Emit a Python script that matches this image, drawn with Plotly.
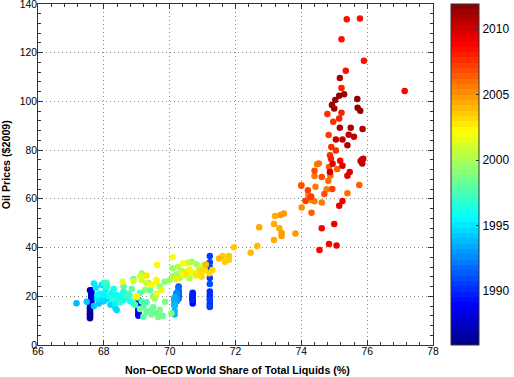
import plotly.graph_objects as go

# ---------------- data ----------------
share = [
    # 1986
    67.58, 67.58, 67.58, 67.58, 67.58, 67.58, 67.58, 67.58, 67.58, 67.58, 67.58, 67.58,
    # 1987
    67.62, 67.62, 67.62, 67.62, 67.62, 67.62, 67.62, 67.62, 67.62, 67.62, 67.62, 67.62,
    # 1988
    69.05, 69.05, 69.05, 69.05, 69.05, 69.05, 69.05, 69.05, 69.05, 69.05, 69.05, 69.05,
    # 1989
    70.70, 70.70, 70.70, 70.70, 70.70, 70.70, 70.70, 70.70, 70.70, 70.70, 70.70, 70.70,
    # 1990
    71.22, 71.22, 71.22, 71.22, 71.22, 71.22, 71.22, 71.22, 71.22, 71.22, 71.22, 71.22,
    # 1991
    70.27, 70.27, 70.27, 70.27, 70.27, 70.27, 70.27, 70.27, 70.27, 70.27, 70.27, 70.27,
    # 1992
    70.21, 70.21, 70.21, 70.21, 70.21, 70.21, 70.21, 70.21, 70.21, 70.21, 70.21, 70.21,
    # 1993
    70.15, 70.15, 70.15, 70.15, 70.15, 70.15, 70.15, 70.15, 70.15, 70.15, 70.15, 70.15,
    # 1994
    67.17, 67.48, 67.70, 67.85, 67.95, 68.10, 68.30, 68.39, 68.35, 68.20, 68.00, 67.80,
    # 1995
    67.70, 67.76, 67.93, 67.88, 67.98, 68.05, 68.25, 68.34, 68.45, 68.15, 67.80, 68.60,
    # 1996
    68.39, 68.55, 68.70, 68.80, 68.60, 68.30, 68.10, 68.00, 68.25, 68.50, 68.90, 68.70,
    # 1997
    68.08, 68.95, 68.78, 68.90, 69.00, 69.15, 69.30, 69.10, 68.60, 69.40, 69.20, 68.85,
    # 1998
    69.20, 69.40, 69.60, 69.79, 69.50, 69.30, 69.70, 69.86, 69.45, 69.65, 69.10, 70.05,
    # 1999
    69.50, 69.25, 69.35, 69.15, 69.85, 70.00, 70.09, 70.22, 70.30, 69.70, 69.55, 70.10,
    # 2000
    70.67, 70.82, 71.04, 70.60, 70.50, 70.35, 70.25, 70.75, 70.90, 70.45, 71.00, 70.55,
    # 2001
    69.60, 68.90, 69.30, 69.45, 69.15, 69.00, 68.57, 69.60, 69.10, 69.75, 70.62, 70.40,
    # 2002
    70.09, 70.41, 69.62, 69.60, 68.98, 69.45, 70.60, 70.50, 70.80, 71.00, 70.20, 69.30,
    # 2003
    71.07, 70.95, 70.97, 71.30, 71.20, 71.61, 71.68, 71.80, 71.80, 71.95, 71.10, 71.50,
    # 2004
    72.46, 72.66, 72.72, 73.17, 73.17, 73.20, 73.33, 73.40, 73.40, 73.37, 73.47, 73.82,
    # 2005
    74.01, 74.00, 74.13, 74.21, 74.31, 74.40, 74.43, 74.62, 74.77, 74.40, 74.48, 74.53,
    # 2006
    74.82, 74.88, 75.40, 75.76, 74.84, 74.87, 75.09, 74.31, 74.27, 74.40, 74.62, 74.70,
    # 2007
    74.00, 74.13, 74.20, 74.30, 74.94, 74.83, 74.97, 75.05, 74.79, 74.91, 74.87, 75.15,
    # 2008
    75.22, 74.90, 75.22, 75.35, 75.22, 75.38, 75.78, 75.90, 77.14, 75.18, 74.62, 74.55,
    # 2009
    74.84, 75.07, 75.00, 75.15, 75.25, 75.40, 75.47, 74.95, 75.25, 74.87,
    # 2010
    75.84, 75.80, 75.88, 75.85, 75.05, 75.25, 75.44, 75.60, 75.40, 75.17, 75.50, 75.86,
    # 2011
    75.17, 75.30, 75.03, 74.93, 75.00, 75.70, 75.71, 75.79, 75.15,
]

price = [
    # 1986
    22.5, 17.0, 13.5, 12.0, 11.5, 12.5, 11.0, 13.0, 14.5, 15.0, 15.5, 16.5,
    # 1987
    18.0, 19.0, 19.5, 20.0, 20.5, 21.0, 22.5, 21.5, 20.5, 21.0, 19.5, 17.5,
    # 1988
    18.5, 17.5, 17.0, 17.5, 16.5, 16.0, 15.0, 14.5, 13.5, 12.5, 12.0, 14.0,
    # 1989
    17.0, 18.0, 19.5, 21.0, 20.0, 19.0, 19.5, 18.5, 19.0, 20.0, 20.5, 21.5,
    # 1990
    22.0, 20.5, 19.0, 17.0, 16.0, 15.6, 18.5, 27.5, 36.5, 34.0, 32.0, 25.0,
    # 1991
    24.0, 22.0, 20.0, 20.5, 20.5, 20.0, 21.0, 21.5, 22.0, 23.5, 22.0, 19.0,
    # 1992
    18.0, 18.5, 18.5, 19.5, 20.5, 21.5, 21.0, 20.5, 21.0, 20.5, 19.5, 18.5,
    # 1993
    18.5, 19.0, 19.0, 19.5, 19.0, 18.0, 17.0, 16.5, 16.5, 16.0, 14.0, 12.5,
    # 1994
    17.1, 17.8, 16.0, 17.0, 18.5, 19.0, 17.5, 14.4, 15.2, 16.5, 18.0, 19.0,
    # 1995
    25.3, 23.5, 24.6, 21.0, 20.5, 22.5, 21.5, 17.1, 19.0, 20.0, 20.5, 18.5,
    # 1996
    20.5, 20.5, 19.5, 18.0, 22.0, 23.0, 24.0, 25.5, 19.0, 17.5, 17.0, 21.0,
    # 1997
    25.6, 16.4, 20.5, 27.0, 19.5, 18.0, 17.5, 21.5, 24.0, 22.5, 15.5, 23.0,
    # 1998
    11.6, 14.0, 13.0, 12.0, 15.5, 13.5, 14.5, 17.8, 12.5, 11.5, 14.8, 13.0,
    # 1999
    20.0, 22.6, 25.6, 29.4, 26.0, 26.7, 31.5, 29.0, 27.5, 24.0, 19.0, 28.3,
    # 2000
    34.2, 33.2, 32.8, 27.4, 30.0, 30.5, 32.0, 29.5, 31.0, 28.5, 31.8, 33.8,
    # 2001
    26.0, 26.3, 25.3, 24.6, 26.7, 20.0, 26.0, 21.0, 28.3, 22.5, 30.0, 29.0,
    # 2002
    36.0, 33.5, 32.8, 26.7, 20.0, 24.6, 31.0, 29.5, 28.5, 30.5, 27.0, 28.5,
    # 2003
    30.8, 30.5, 28.0, 30.8, 29.5, 36.5, 34.2, 35.0, 36.5, 40.1, 33.0, 35.5,
    # 2004
    37.9, 40.6, 48.3, 43.1, 49.7, 53.0, 47.9, 46.0, 44.7, 53.4, 54.0, 45.8,
    # 2005
    56.5, 65.7, 59.1, 61.6, 59.4, 59.0, 65.0, 58.5, 63.9, 69.4, 74.2, 74.5,
    # 2006
    67.4, 69.6, 62.3, 65.7, 73.1, 71.0, 72.3, 54.3, 60.8, 71.5, 69.0, 62.0,
    # 2007
    65.4, 59.2, 63.5, 61.0, 64.0, 86.2, 91.7, 79.9, 94.8, 81.3, 77.9, 93.0,
    # 2008
    95.4, 76.5, 105.5, 112.6, 125.5, 133.7, 134.0, 116.7, 104.3, 75.6, 47.9, 39.0,
    # 2009
    41.5, 40.9, 49.7, 57.2, 59.1, 69.5, 71.0, 74.4, 73.6, 71.0,
    # 2010
    76.1, 75.5, 76.5, 74.5, 84.4, 84.4, 86.3, 85.5, 82.0, 89.2, 89.2, 88.7,
    # 2011
    109.6, 102.9, 100.6, 98.5, 97.1, 101.0, 97.4, 96.2, 102.3,
]

year = [
    1986.0, 1986.1, 1986.2, 1986.3, 1986.3, 1986.4, 1986.5, 1986.6, 1986.7, 1986.7, 1986.8, 1986.9,
    1987.0, 1987.1, 1987.2, 1987.3, 1987.3, 1987.4, 1987.5, 1987.6, 1987.7, 1987.7, 1987.8, 1987.9,
    1988.0, 1988.1, 1988.2, 1988.3, 1988.3, 1988.4, 1988.5, 1988.6, 1988.7, 1988.7, 1988.8, 1988.9,
    1989.0, 1989.1, 1989.2, 1989.3, 1989.3, 1989.4, 1989.5, 1989.6, 1989.7, 1989.7, 1989.8, 1989.9,
    1990.0, 1990.1, 1990.2, 1990.3, 1990.3, 1990.4, 1990.5, 1990.6, 1990.7, 1990.7, 1990.8, 1990.9,
    1991.0, 1991.1, 1991.2, 1991.3, 1991.3, 1991.4, 1991.5, 1991.6, 1991.7, 1991.7, 1991.8, 1991.9,
    1992.0, 1992.1, 1992.2, 1992.3, 1992.3, 1992.4, 1992.5, 1992.6, 1992.7, 1992.7, 1992.8, 1992.9,
    1993.0, 1993.1, 1993.2, 1993.3, 1993.3, 1993.4, 1993.5, 1993.6, 1993.7, 1993.7, 1993.8, 1993.9,
    1994.0, 1994.1, 1994.2, 1994.3, 1994.3, 1994.4, 1994.5, 1994.6, 1994.7, 1994.7, 1994.8, 1994.9,
    1995.0, 1995.1, 1995.2, 1995.3, 1995.3, 1995.4, 1995.5, 1995.6, 1995.7, 1995.7, 1995.8, 1995.9,
    1996.0, 1996.1, 1996.2, 1996.3, 1996.3, 1996.4, 1996.5, 1996.6, 1996.7, 1996.7, 1996.8, 1996.9,
    1997.0, 1997.1, 1997.2, 1997.3, 1997.3, 1997.4, 1997.5, 1997.6, 1997.7, 1997.7, 1997.8, 1997.9,
    1998.0, 1998.1, 1998.2, 1998.3, 1998.3, 1998.4, 1998.5, 1998.6, 1998.7, 1998.7, 1998.8, 1998.9,
    1999.0, 1999.1, 1999.2, 1999.3, 1999.3, 1999.4, 1999.5, 1999.6, 1999.7, 1999.7, 1999.8, 1999.9,
    2000.0, 2000.1, 2000.2, 2000.3, 2000.3, 2000.4, 2000.5, 2000.6, 2000.7, 2000.7, 2000.8, 2000.9,
    2001.0, 2001.1, 2001.2, 2001.3, 2001.3, 2001.4, 2001.5, 2001.6, 2001.7, 2001.7, 2001.8, 2001.9,
    2002.0, 2002.1, 2002.2, 2002.3, 2002.3, 2002.4, 2002.5, 2002.6, 2002.7, 2002.7, 2002.8, 2002.9,
    2003.0, 2003.1, 2003.2, 2003.3, 2003.3, 2003.4, 2003.5, 2003.6, 2003.7, 2003.7, 2003.8, 2003.9,
    2004.0, 2004.1, 2004.2, 2004.3, 2004.3, 2004.4, 2004.5, 2004.6, 2004.7, 2004.7, 2004.8, 2004.9,
    2005.0, 2005.1, 2005.2, 2005.3, 2005.3, 2005.4, 2005.5, 2005.6, 2005.7, 2005.7, 2005.8, 2005.9,
    2006.0, 2006.1, 2006.2, 2006.3, 2006.3, 2006.4, 2006.5, 2006.6, 2006.7, 2006.7, 2006.8, 2006.9,
    2007.0, 2007.1, 2007.2, 2007.3, 2007.3, 2007.4, 2007.5, 2007.6, 2007.7, 2007.7, 2007.8, 2007.9,
    2008.0, 2008.1, 2008.2, 2008.3, 2008.3, 2008.4, 2008.5, 2008.6, 2008.7, 2008.7, 2008.8, 2008.9,
    2009.0, 2009.1, 2009.2, 2009.3, 2009.4, 2009.5, 2009.6, 2009.7, 2009.8, 2009.9,
    2010.0, 2010.1, 2010.2, 2010.3, 2010.3, 2010.4, 2010.5, 2010.6, 2010.7, 2010.7, 2010.8, 2010.9,
    2011.0, 2011.1, 2011.2, 2011.3, 2011.4, 2011.5, 2011.6, 2011.7, 2011.8,
]

# highlighted (most recent) point
latest_share = [75.15]
latest_price = [102.3]

year_min, year_max = 1985.9, 2011.9
cbar_ticks = [1990, 1995, 2000, 2005, 2010]
x_ticks = [66, 68, 70, 72, 74, 76, 78]
y_ticks = [0, 20, 40, 60, 80, 100, 120, 140]

# ---------------- MATLAB-like jet(64) stepped colour scale ----------------
def jet(p):
    def c(v):
        return max(0.0, min(1.0, v))
    r = c(1.5 - abs(4 * p - 3))
    g = c(1.5 - abs(4 * p - 2))
    b = c(1.5 - abs(4 * p - 1))
    return "rgb(%d,%d,%d)" % (round(r * 255), round(g * 255), round(b * 255))

N = 64
jet_scale = []
for k in range(N):
    col = jet((k + 1) / (N + 1))
    jet_scale.append([k / N, col])
    jet_scale.append([(k + 1) / N, col])

FONT = "Liberation Sans, Arial, Helvetica, sans-serif"

fig = go.Figure()
fig.add_trace(go.Scatter(
    x=share, y=price, mode="markers",
    marker=dict(
        size=6.5, color=year, colorscale=jet_scale, cmin=year_min, cmax=year_max,
        line=dict(width=0),
        colorbar=dict(
            thickness=28, thicknessmode="pixels", len=1.0, lenmode="fraction",
            x=1.0456, xanchor="left", y=0.5, yanchor="middle", xpad=0, ypad=0,
            outlinewidth=1, outlinecolor="#333",
            tickvals=cbar_ticks, ticks="inside", ticklen=3, tickcolor="#333",
            tickfont=dict(family=FONT, size=12, color="black"),
        ),
    ),
    hoverinfo="skip", showlegend=False,
))
fig.add_trace(go.Scatter(
    x=latest_share, y=latest_price, mode="markers",
    marker=dict(size=10, color="rgba(0,0,0,0)", symbol="circle-open",
                line=dict(width=1, color="rgb(255,40,40)")),
    hoverinfo="skip", showlegend=False,
))

axis_common = dict(
    ticks="inside", ticklen=5, tickcolor="#333", tickwidth=1,
    showline=True, linecolor="#333", linewidth=1, mirror="allticks",
    showgrid=True, gridcolor="#8a8a8a", gridwidth=1, griddash="1px,3px",
    zeroline=False, tickfont=dict(family=FONT, size=10.3, color="black"),
    ticklabeloverflow="allow", automargin=False,
)

fig.update_layout(
    width=514, height=377, autosize=False,
    margin=dict(l=38, r=81, t=4, b=32, pad=0, autoexpand=False),
    paper_bgcolor="white", plot_bgcolor="white",
    hovermode=False,
    xaxis=dict(range=[66, 78], tickvals=x_ticks, ticklabelstandoff=-3,
               minor=dict(dtick=0.4, tick0=66, ticks="inside", ticklen=3, tickcolor="#333", showgrid=False),
               **axis_common),
    yaxis=dict(range=[0, 140], tickvals=y_ticks, ticklabelstandoff=-2,
               minor=dict(dtick=4, tick0=0, ticks="inside", ticklen=3, tickcolor="#333", showgrid=False),
               **axis_common),
    annotations=[
        dict(text="<b>Non\u2212OECD World Share of Total Liquids (%)</b>", xref="paper", yref="paper",
             x=0.505, y=0, yshift=-25, xanchor="center", yanchor="middle", showarrow=False,
             font=dict(family=FONT, size=10.7, color="black")),
        dict(text="<b>Oil Prices ($2009)</b>", xref="paper", yref="paper",
             x=0, xshift=-32, y=0.53, xanchor="center", yanchor="middle", textangle=-90,
             showarrow=False, font=dict(family=FONT, size=10.7, color="black")),
    ],
)

fig.write_html("out.html", config={"displayModeBar": False, "staticPlot": True},
               post_script="document.body.style.margin='0px';document.body.style.padding='0px';")
